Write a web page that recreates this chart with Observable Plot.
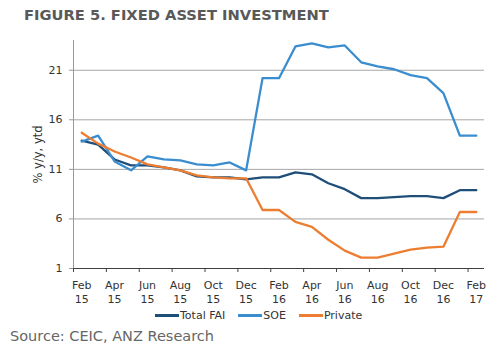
<!DOCTYPE html>
<html><head><meta charset="utf-8">
<script src="https://cdn.jsdelivr.net/npm/d3@7"></script>
<script src="https://cdn.jsdelivr.net/npm/@observablehq/plot@0.6"></script>
<style>
body{margin:0;background:#fff;width:500px;height:350px;position:relative;overflow:hidden;font-family:"DejaVu Sans",sans-serif}
#title{position:absolute;left:24px;top:8px;font-weight:bold;font-size:14.7px;line-height:1;color:#595959;white-space:nowrap}
#chart{position:absolute;left:0;top:0}
#legend{position:absolute;left:155px;top:310px;font-size:11px;line-height:1;color:#333;display:flex;align-items:center;white-space:nowrap}
.item{display:flex;align-items:center;margin-right:13px}
.sw{display:inline-block;width:24px;height:2.5px;margin-right:1px}
#source{position:absolute;left:10px;top:329px;font-size:14.5px;line-height:1;color:#666;white-space:nowrap}
</style></head>
<body>
<div id="title">FIGURE 5. FIXED ASSET INVESTMENT</div>
<div id="chart"></div>
<div id="legend"></div>
<div id="source">Source: CEIC, ANZ Research</div>
<script>
const periods = ["Feb 15","Mar 15","Apr 15","May 15","Jun 15","Jul 15","Aug 15","Sep 15","Oct 15","Nov 15","Dec 15",
  "Jan 16","Feb 16","Mar 16","Apr 16","May 16","Jun 16","Jul 16","Aug 16","Sep 16","Oct 16","Nov 16","Dec 16",
  "Jan 17","Feb 17"];
const totalFAI = [13.9,13.5,12.0,11.4,11.4,11.2,10.9,10.3,10.2,10.2,10.0,10.2,10.2,10.7,10.5,9.6,9.0,8.1,8.1,8.2,8.3,8.3,8.1,8.9,8.9];
const soe      = [13.8,14.4,11.8,10.9,12.3,12.0,11.9,11.5,11.4,11.7,10.9,20.2,20.2,23.4,23.7,23.3,23.5,21.8,21.4,21.1,20.5,20.2,18.7,14.4,14.4];
const privateFAI = [14.7,13.6,12.8,12.2,11.5,11.2,10.9,10.4,10.2,10.1,10.1,6.9,6.9,5.7,5.2,3.9,2.8,2.1,2.1,2.5,2.9,3.1,3.2,6.7,6.7];
const seriesNames = ["Total FAI","SOE","Private"];
const seriesColors = ["#1f4e79","#3a8dcf","#ed7d31"];
const yTicks = [1,6,11,16,21];
const yLabel = "% y/y, ytd";

const seriesValues = [totalFAI, soe, privateFAI];
const rows = [];
seriesNames.forEach((name, k) => seriesValues[k].forEach((v, i) => rows.push({i, v, name})));
const tickLabels = periods.map((p, i) => ({i, label: p.replace(" ", "\n")})).filter(d => d.i % 2 === 0);
const boundaries = periods.map((p, i) => i - 0.5).filter((b, i) => i % 2 === 0);

const chart = Plot.plot({
  width: 500, height: 305,
  marginLeft: 73, marginRight: 16, marginTop: 40, marginBottom: 37,
  style: {fontFamily: "DejaVu Sans", fontSize: "11px", color: "#333", background: "transparent", overflow: "visible"},
  x: {type: "linear", domain: [-0.5, periods.length - 0.5], axis: null, label: null},
  y: {domain: [1, 24], axis: null, label: null},
  color: {domain: seriesNames, range: seriesColors},
  marks: [
    Plot.gridY(yTicks.slice(1), {stroke: "#a6a6a6", strokeOpacity: 1}),
    Plot.ruleX([-0.5], {stroke: "#999"}),
    Plot.axisY(yTicks, {tickSize: 4, tickPadding: 7, stroke: "#999", fill: "#333", label: null}),
    Plot.ruleY([1], {stroke: "#404040"}),
    Plot.axisX(boundaries, {tickSize: 4, tickFormat: () => "", stroke: "#404040", label: null}),
    Plot.text(tickLabels, {x: "i", frameAnchor: "bottom", text: "label", lineAnchor: "top", dy: 11, lineHeight: 1.27, fill: "#333"}),
    Plot.line(rows, {x: "i", y: "v", z: "name", stroke: "name", strokeWidth: 2.3}),
    Plot.text([yLabel], {frameAnchor: "left", rotate: -90, dx: -35, textAnchor: "middle", fill: "#333", fontSize: 11.5})
  ]
});
document.getElementById("chart").appendChild(chart);

const legend = document.getElementById("legend");
seriesNames.forEach((name, k) => {
  const item = document.createElement("span");
  item.className = "item";
  const sw = document.createElement("span");
  sw.className = "sw";
  sw.style.background = seriesColors[k];
  item.appendChild(sw);
  item.appendChild(document.createTextNode(name));
  legend.appendChild(item);
});
</script>
</body></html>
